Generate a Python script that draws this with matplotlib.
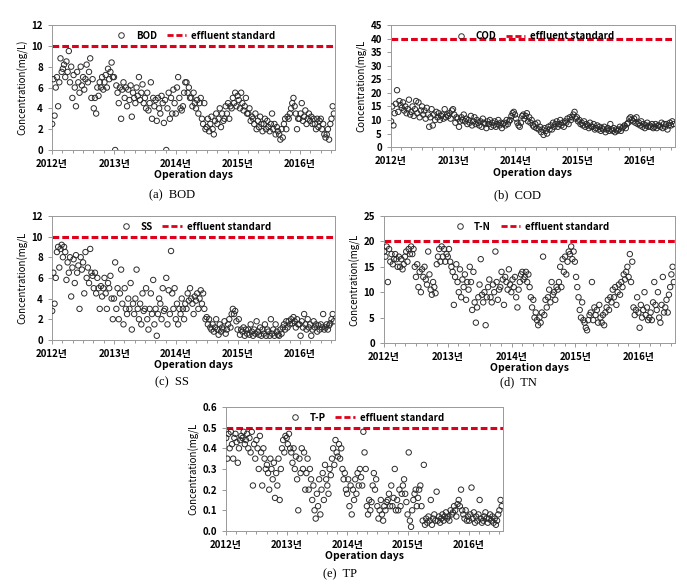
import numpy as np
import pandas as pd
import matplotlib
matplotlib.use('Agg')
import matplotlib.pyplot as plt
import matplotlib.dates as mdates
from matplotlib.lines import Line2D

plt.rcParams['font.family'] = ['Noto Sans CJK KR', 'DejaVu Sans']

# weekly readings, Jan 2012 - Jul 2016
bod_2012 = [2.5, 6.8, 3.3, 6.0, 7.0, 4.2, 6.5, 8.8, 7.5, 7.8, 8.2, 7.0, 8.5,
            7.5, 9.5, 6.5, 8.0, 5.0, 7.2, 6.0, 4.2, 7.5, 6.5, 5.5, 8.0, 6.2,
            7.0, 5.8, 6.8, 8.2, 6.5, 7.5, 8.8, 5.0, 6.8, 4.0, 5.0, 3.5, 6.0,
            5.2, 6.5, 6.0, 7.0, 5.8, 6.5, 7.2, 6.0, 7.8, 6.8, 7.5, 8.4, 7.0]
bod_2013 = [7.0, 0.0, 6.2, 5.5, 4.5, 6.0, 3.0, 5.8, 6.5, 5.0, 6.0, 4.2, 5.8,
            4.8, 6.2, 3.2, 5.5, 5.0, 4.5, 6.0, 5.2, 7.0, 4.8, 5.5, 6.3, 4.5,
            5.0, 4.0, 5.5, 3.8, 4.5, 6.5, 3.0, 5.0, 4.2, 4.8, 2.8, 5.0, 4.0,
            3.5, 5.2, 4.5, 2.6, 4.8, 0.0, 4.0, 5.5, 3.0, 5.0, 3.5, 5.8, 4.5]
bod_2014 = [3.5, 6.0, 7.0, 5.0, 4.0, 3.8, 4.2, 5.5, 6.5, 6.5, 5.5, 6.0, 5.0,
            5.0, 4.2, 5.5, 4.5, 4.0, 4.8, 3.5, 4.5, 5.0, 3.0, 2.5, 4.5, 2.0,
            2.2, 3.0, 1.8, 2.5, 3.2, 2.0, 1.5, 2.8, 3.5, 2.5, 3.0, 4.0, 2.2,
            3.5, 2.8, 3.0, 4.2, 3.5, 4.5, 3.0, 4.2, 4.0, 5.0, 4.5, 5.5, 4.2]
bod_2015 = [5.2, 4.8, 4.0, 5.5, 4.5, 3.8, 4.2, 5.0, 3.5, 3.5, 4.0, 2.8, 3.2,
            3.0, 2.5, 3.5, 2.0, 2.8, 2.2, 3.2, 2.5, 1.8, 2.5, 3.0, 2.0, 2.8,
            2.2, 1.8, 2.5, 3.5, 2.0, 2.5, 1.5, 2.2, 1.8, 1.5, 1.0, 2.0, 1.2,
            2.5, 3.0, 2.0, 3.2, 3.0, 3.5, 4.0, 4.5, 5.0, 4.2, 3.5, 2.0, 3.0]
bod_2016 = [3.0, 3.5, 4.5, 2.8, 3.2, 3.8, 2.5, 3.0, 3.5, 2.8, 3.2, 2.5, 3.0,
            2.5, 2.0, 3.0, 2.2, 2.8, 3.0, 2.0, 2.5, 1.5, 1.2, 1.5, 2.0, 1.0,
            2.5, 3.0, 4.2, 3.5]

cod_2012 = [9.5, 15.0, 8.0, 12.5, 16.0, 21.0, 13.0, 17.0, 15.5, 14.5, 16.5, 13.5, 15.0,
            12.5, 14.0, 17.5, 12.0, 13.0, 15.0, 11.5, 14.0, 17.0, 12.5, 16.5, 11.0, 13.5,
            15.0, 12.0, 13.5, 10.5, 14.5, 12.0, 7.5, 11.0, 14.0, 8.0, 12.0, 10.0, 13.0,
            11.0, 12.5, 10.0, 11.5, 12.0, 10.5, 14.0, 11.0, 12.0, 11.5, 12.5, 10.5, 13.5]
cod_2013 = [14.0, 12.0, 9.0, 11.0, 10.5, 7.5, 9.5, 11.0, 10.0, 12.0, 9.5, 10.5, 8.5,
            10.0, 9.0, 11.5, 8.0, 9.5, 11.0, 8.5, 10.0, 9.0, 8.0, 9.5, 7.5, 10.5,
            9.0, 8.5, 7.0, 9.5, 8.5, 10.0, 7.5, 9.0, 8.0, 9.5, 7.5, 8.5, 10.0,
            8.0, 9.0, 7.0, 8.5, 9.0, 8.0, 10.0, 8.5, 9.5, 10.0, 11.5, 12.5, 13.0]
cod_2014 = [12.0, 10.5, 9.0, 8.0, 7.5, 9.0, 11.5, 12.0, 10.5, 11.5, 12.5, 9.5, 11.0,
            9.0, 10.0, 8.0, 7.5, 8.5, 7.0, 9.0, 6.5, 7.5, 5.5, 6.5, 4.5, 7.0,
            6.0, 5.0, 7.5, 6.5, 8.0, 6.5, 9.0, 7.5, 8.5, 9.5, 7.5, 8.5, 10.0,
            8.0, 9.0, 7.5, 9.5, 9.0, 10.5, 8.5, 11.0, 10.0, 11.0, 12.0, 13.0, 10.5]
cod_2015 = [11.0, 9.5, 10.0, 8.5, 9.0, 8.0, 9.5, 7.5, 8.5, 8.0, 7.0, 9.0, 7.5,
            7.5, 8.5, 6.5, 7.0, 8.0, 6.5, 7.5, 6.0, 7.0, 6.5, 7.5, 5.5, 6.5,
            7.0, 6.0, 8.5, 6.5, 6.0, 7.0, 5.5, 6.5, 6.0, 6.5, 7.5, 6.0, 7.0,
            7.5, 8.0, 7.0, 8.5, 9.0, 10.5, 11.0, 10.0, 9.5, 10.5, 9.0, 11.0, 8.5]
cod_2016 = [9.0, 8.0, 9.5, 7.5, 8.5, 7.0, 8.0, 9.0, 7.5, 8.0, 7.5, 8.5, 7.0,
            7.5, 8.5, 7.0, 8.0, 8.0, 7.5, 9.0, 7.0, 8.5, 7.5, 8.5, 6.5, 8.0,
            9.0, 8.0, 9.5, 8.5]

ss_2012 = [2.8, 6.5, 3.5, 6.0, 8.5, 9.0, 7.0, 8.8, 9.2, 8.0, 9.0, 8.5, 5.8,
           7.5, 6.5, 8.0, 4.2, 7.0, 7.8, 5.5, 8.2, 6.5, 7.2, 3.0, 8.0, 6.8,
           7.5, 4.5, 8.5, 6.0, 7.0, 5.5, 8.8, 6.5, 6.2, 5.0, 6.5, 4.5, 6.0,
           5.0, 3.0, 5.2, 4.2, 5.0, 6.0, 4.5, 3.0, 5.5, 5.0, 6.2, 4.0, 2.0]
ss_2013 = [4.0, 7.5, 3.0, 5.0, 2.0, 4.5, 6.8, 3.5, 1.5, 5.0, 3.0, 2.5, 4.0,
           3.0, 5.5, 1.0, 3.5, 2.5, 4.0, 6.8, 3.0, 2.0, 3.5, 1.5, 4.5, 2.8,
           3.0, 5.0, 2.0, 1.0, 3.0, 4.5, 2.5, 5.8, 1.5, 3.0, 0.4, 2.5, 4.0,
           3.5, 2.0, 5.0, 2.8, 3.0, 6.0, 1.5, 4.8, 2.5, 8.6, 4.5, 3.0, 5.0]
ss_2014 = [2.0, 3.5, 1.5, 3.0, 2.5, 4.0, 3.0, 2.0, 3.5, 3.0, 4.5, 3.8, 5.0,
           4.0, 3.5, 2.5, 4.2, 3.8, 4.5, 3.0, 4.0, 4.8, 3.5, 4.5, 3.0, 2.0,
           2.2, 1.5, 2.0, 1.2, 1.0, 1.5, 0.8, 1.2, 2.0, 1.0, 0.5, 1.5, 0.8,
           1.2, 1.0, 1.8, 0.6, 1.0, 1.5, 2.0, 1.2, 2.5, 3.0, 2.5, 2.8, 1.8]
ss_2015 = [1.0, 2.0, 0.5, 1.0, 0.8, 1.2, 0.4, 1.0, 0.6, 1.0, 0.5, 1.5, 0.8,
           0.4, 1.0, 0.6, 1.8, 0.8, 0.5, 1.2, 0.4, 1.0, 0.6, 1.5, 0.4, 1.0,
           0.8, 0.4, 2.0, 0.6, 1.0, 0.4, 1.5, 0.8, 0.5, 0.4, 1.0, 0.6, 1.2,
           1.5, 1.0, 1.8, 1.2, 1.8, 1.5, 2.0, 1.6, 2.2, 1.8, 1.2, 2.0, 1.5]
ss_2016 = [1.5, 0.4, 1.8, 1.2, 2.5, 1.5, 1.0, 2.0, 1.2, 1.5, 0.4, 1.0, 1.8,
           1.2, 1.5, 0.8, 1.4, 1.0, 1.5, 1.2, 2.5, 1.0, 1.2, 1.5, 1.0, 1.4,
           1.6, 2.0, 2.5, 1.8]

tn_2012 = [18.0, 17.0, 19.0, 12.0, 18.5, 16.0, 17.5, 15.5, 16.5, 17.5, 16.5, 15.0, 17.0,
           15.0, 16.5, 14.5, 15.5, 17.0, 18.0, 16.0, 18.5, 17.5, 19.0, 17.5, 18.5, 15.0,
           13.0, 15.5, 11.0, 14.0, 10.0, 14.5, 13.0, 15.0, 12.5, 11.5, 18.0, 13.5, 10.5,
           9.5, 12.0, 11.0, 9.8, 15.5, 17.0, 18.5, 16.0, 19.0, 17.0, 18.5, 16.0, 17.5]
tn_2013 = [17.0, 18.5, 16.0, 15.0, 14.0, 7.5, 13.0, 15.5, 12.0, 10.0, 14.5, 9.0, 12.5,
           11.0, 13.5, 8.5, 12.0, 10.5, 15.0, 12.0, 6.5, 14.0, 8.0, 4.0, 7.0, 9.0,
           11.5, 16.5, 9.5, 8.0, 10.0, 3.5, 9.0, 11.0, 12.5, 9.0, 8.0, 11.5, 10.0,
           18.0, 12.0, 8.5, 10.5, 11.0, 14.0, 12.5, 7.5, 13.0, 12.0, 10.5, 14.5, 11.5]
tn_2014 = [10.0, 12.5, 11.0, 13.0, 9.0, 7.0, 10.5, 12.0, 13.5, 14.0, 12.5, 13.0, 14.0,
           12.0, 13.5, 11.0, 9.0, 7.0, 8.5, 5.0, 6.0, 4.5, 3.5, 5.0, 4.0, 6.0,
           17.0, 5.5, 8.5, 7.0, 9.0, 10.5, 8.0, 12.0, 9.5, 10.0, 8.5, 11.0, 10.5,
           12.0, 15.0, 11.0, 16.5, 14.0, 17.0, 13.5, 16.0, 18.0, 17.5, 19.0, 16.5, 18.0]
tn_2015 = [16.0, 13.0, 11.0, 9.0, 6.5, 5.0, 8.0, 4.5, 4.0, 3.0, 2.5, 4.5, 5.5,
           6.0, 12.0, 4.5, 7.0, 5.5, 6.5, 4.0, 7.5, 5.0, 4.0, 5.5, 3.5, 6.0,
           7.0, 8.5, 6.5, 9.0, 8.0, 10.5, 9.0, 11.0, 7.5, 10.0, 11.5, 9.5, 12.0,
           11.0, 13.5, 12.5, 14.0, 15.0, 13.0, 17.5, 12.0, 16.0, 7.0, 5.5, 6.5, 9.0]
tn_2016 = [6.0, 3.0, 7.5, 5.0, 6.5, 10.0, 5.5, 7.0, 4.5, 5.0, 6.0, 4.5, 8.0,
           12.0, 7.5, 6.5, 10.0, 5.0, 4.0, 7.5, 13.0, 6.0, 7.0, 8.5, 6.0, 9.5,
           11.0, 13.5, 15.0, 12.0]

tp_2012 = [0.45, 0.35, 0.47, 0.40, 0.48, 0.42, 0.35, 0.45, 0.47, 0.43, 0.33, 0.40, 0.44,
           0.46, 0.45, 0.48, 0.42, 0.44, 0.47, 0.40, 0.45, 0.38, 0.48, 0.22, 0.42, 0.35,
           0.44, 0.40, 0.30, 0.46, 0.38, 0.22, 0.40, 0.35, 0.30, 0.32, 0.28, 0.20, 0.35,
           0.30, 0.25, 0.33, 0.16, 0.28, 0.22, 0.35, 0.15, 0.30, 0.40, 0.44, 0.38, 0.46]
tp_2013 = [0.45, 0.42, 0.47, 0.40, 0.38, 0.33, 0.40, 0.30, 0.36, 0.25, 0.10, 0.35, 0.28,
           0.40, 0.30, 0.38, 0.20, 0.28, 0.35, 0.20, 0.30, 0.25, 0.15, 0.22, 0.10, 0.06,
           0.18, 0.12, 0.25, 0.08, 0.20, 0.28, 0.15, 0.32, 0.25, 0.22, 0.18, 0.30, 0.27,
           0.35, 0.40, 0.32, 0.44, 0.38, 0.36, 0.42, 0.35, 0.40, 0.30, 0.25, 0.28, 0.20]
tp_2014 = [0.18, 0.25, 0.12, 0.22, 0.08, 0.20, 0.15, 0.25, 0.18, 0.28, 0.22, 0.30, 0.26,
           0.22, 0.48, 0.38, 0.30, 0.12, 0.08, 0.15, 0.10, 0.14, 0.22, 0.28, 0.20, 0.25,
           0.12, 0.06, 0.10, 0.15, 0.08, 0.05, 0.12, 0.10, 0.14, 0.15, 0.18, 0.12, 0.22,
           0.12, 0.16, 0.30, 0.10, 0.15, 0.10, 0.20, 0.12, 0.18, 0.22, 0.25, 0.18, 0.14]
tp_2015 = [0.08, 0.38, 0.05, 0.02, 0.10, 0.15, 0.18, 0.20, 0.12, 0.16, 0.20, 0.22, 0.12,
           0.05, 0.32, 0.03, 0.06, 0.04, 0.07, 0.05, 0.15, 0.03, 0.06, 0.08, 0.05, 0.19,
           0.05, 0.07, 0.04, 0.06, 0.08, 0.05, 0.07, 0.09, 0.06, 0.07, 0.05, 0.10, 0.08,
           0.09, 0.12, 0.10, 0.07, 0.13, 0.15, 0.12, 0.20, 0.10, 0.08, 0.06, 0.10, 0.05]
tp_2016 = [0.07, 0.05, 0.08, 0.21, 0.06, 0.09, 0.04, 0.07, 0.05, 0.08, 0.15, 0.06, 0.04,
           0.05, 0.07, 0.09, 0.06, 0.04, 0.06, 0.08, 0.05, 0.07, 0.04, 0.06, 0.03, 0.05,
           0.08, 0.10, 0.15, 0.12]

bod = bod_2012 + bod_2013 + bod_2014 + bod_2015 + bod_2016
cod = cod_2012 + cod_2013 + cod_2014 + cod_2015 + cod_2016
ss = ss_2012 + ss_2013 + ss_2014 + ss_2015 + ss_2016
tn = tn_2012 + tn_2013 + tn_2014 + tn_2015 + tn_2016
tp = tp_2012 + tp_2013 + tp_2014 + tp_2015 + tp_2016

dates = pd.date_range('2012-01-02', periods=len(bod), freq='7D')

# effluent standards
std_bod, std_cod, std_ss, std_tn, std_tp = 10, 40, 10, 20, 0.5

fig = plt.figure(figsize=(6.87, 5.86), dpi=100)


def panel(rect, y, name, std, ymax, ystep, ylabel, caption, cap_xy):
    ax = fig.add_axes(rect)
    ax.scatter(dates, y, s=15, facecolors='none', edgecolors='#2a2a2a',
               linewidths=0.7, zorder=3)
    ax.axhline(std, color='#e0001b', lw=2.2, dashes=(2.2, 1.0), zorder=2)
    ax.set_xlim(pd.Timestamp('2012-01-01'), pd.Timestamp('2016-07-25'))
    ax.set_ylim(0, ymax)
    ax.set_yticks(np.arange(0, ymax + ystep / 2, ystep))
    ax.xaxis.set_major_locator(mdates.YearLocator())
    ax.xaxis.set_minor_locator(mdates.MonthLocator(bymonth=[3, 5, 7, 9, 11]))
    ax.xaxis.set_major_formatter(mdates.DateFormatter('%Y년'))
    ax.tick_params(axis='both', labelsize=7, color='#888888', length=3, width=0.6)
    ax.tick_params(axis='x', which='minor', length=2, color='#888888')
    for lab in ax.get_xticklabels() + ax.get_yticklabels():
        lab.set_fontweight('bold')
    for sp in ax.spines.values():
        sp.set_color('#999999')
        sp.set_linewidth(0.7)
    ax.set_ylabel(ylabel, fontsize=7, labelpad=2)
    ax.set_xlabel('Operation days', fontsize=7.5, fontweight='bold', labelpad=1)
    handles = [Line2D([], [], ls='none', marker='o', mfc='none', mec='#333333',
                      ms=4, mew=0.7),
               Line2D([], [], color='#e0001b', lw=2.0, dashes=(2.2, 1.0))]
    ax.legend(handles, [name, 'effluent standard'], loc='upper center', ncol=2,
              frameon=False, prop={'size': 7, 'weight': 'bold'},
              handlelength=2.0, columnspacing=1.0, borderaxespad=0.2,
              handletextpad=0.5)
    fig.text(cap_xy[0], cap_xy[1], caption, family='Liberation Serif',
             fontsize=9, ha='center', va='center')
    return ax


panel([0.0757, 0.744, 0.412, 0.2133], bod, 'BOD', std_bod, 12, 2,
      'Concentration(mg/L)', '(a)  BOD', (172 / 687, 1 - 195 / 586))
panel([0.569, 0.749, 0.413, 0.208], cod, 'COD', std_cod, 45, 5,
      'Concentration(mg/L', '(b)  COD', (518 / 687, 1 - 195 / 586))
panel([0.0757, 0.420, 0.412, 0.2116], ss, 'SS', std_ss, 12, 2,
      'Concentration(mg/L', '(c)  SS', (172 / 687, 1 - 382 / 586))
panel([0.559, 0.4147, 0.4236, 0.2167], tn, 'T-N', std_tn, 25, 5,
      'Concentration(mg/L', '(d)  TN', (518 / 687, 1 - 382 / 586))
panel([0.329, 0.0939, 0.403, 0.2116], tp, 'T-P', std_tp, 0.6, 0.1,
      'Concentration(mg/L', '(e)  TP', (340 / 687, 1 - 574 / 586))

fig.savefig('out.png', dpi=100)
